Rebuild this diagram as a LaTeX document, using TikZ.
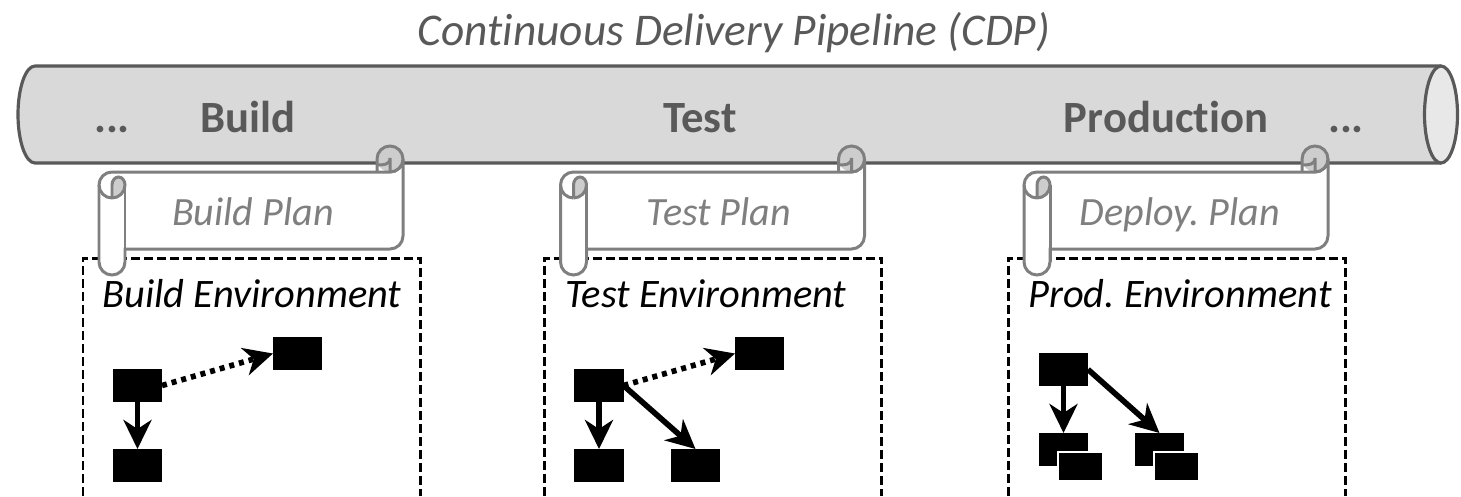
\documentclass[tikz,border=0pt]{standalone}
\usepackage{fontspec}
\usetikzlibrary{arrows.meta}
\setmainfont[Ligatures=NoCommon]{Carlito}
\frenchspacing
\definecolor{pipeline}{HTML}{595959}
\definecolor{pipefill}{HTML}{D9D9D9}
\definecolor{pipeend}{HTML}{E8E8E8}
\definecolor{scrollline}{HTML}{7F7F7F}
\definecolor{curlfill}{HTML}{CDCDCD}
\tikzset{
  task/.style={fill=black, inner sep=0, outer sep=0, minimum width=0.49cm, minimum height=0.33cm},
  taskfront/.style={task, draw=white, line width=0.4pt, minimum width=0.45cm, minimum height=0.29cm},
  link/.style={line width=1.6pt, -{Stealth[length=0.29cm, width=0.28cm, inset=0.09cm]}},
  optlink/.style={link, dash pattern=on 0.05cm off 0.05cm},
  envbox/.style={line width=0.85pt, dash pattern=on 0.09cm off 0.04cm},
  scrollpath/.style={draw=scrollline, line width=0.85pt},
  stage/.style={font=\fontsize{12.7}{15}\selectfont\bfseries, text=pipeline, anchor=base, inner sep=0},
  plan/.style={font=\fontsize{11.4}{14}\selectfont\itshape, text=scrollline, anchor=base, inner sep=0},
  env/.style={font=\fontsize{11.5}{14}\selectfont\itshape, anchor=base, inner sep=0}
}
\begin{document}
\begin{tikzpicture}[x=0.01cm, y=0.01cm]
  \useasboundingbox (0,0) rectangle (1461,496);
  \node[font=\fontsize{12.9}{15}\selectfont\itshape, text=pipeline, anchor=base, inner sep=0] (title) at (734,451) {Continuous Delivery Pipeline (CDP)};
  % pipeline
  \draw[draw=pipeline, fill=pipefill, line width=0.9pt] (1441,430) -- (35,430)
    arc[start angle=90, end angle=270, x radius=17, y radius=48.5] -- (1441,333);
  \draw[draw=pipeline, fill=pipeend, line width=0.9pt] (1441,381.5) ellipse[x radius=16.5, y radius=48.5];
  \node[stage] (dotsL) at (112,364) {...};
  \node[stage] (build) at (248,364) {Build};
  \node[stage] (test) at (700,364) {Test};
  \node[stage] (prod) at (1166,364) {Production};
  \node[stage] (dotsR) at (1346,364) {...};
  % environments and plans
  \foreach \dx/\planx/\plantxt/\envx/\envtxt in {0/253/Build Plan/252/Build Environment,
      461.5/719/Test Plan/706/Test Environment, 925/1180/Deploy. Plan/1180/Prod. Environment} {
    \begin{scope}[shift={(\dx,0)}]
      \draw[envbox] (83,0) -- (83,238) -- (420,238) -- (420,0);
      \fill[curlfill] (390,337) circle[radius=13];
      \draw[scrollpath, fill=white] (112,324) -- (390,324) arc[start angle=-90, end angle=0, radius=13]
        -- (403,260) arc[start angle=0, end angle=-90, radius=13] -- (125,247) -- (125,234)
        arc[start angle=0, end angle=-180, radius=13] -- (99,311)
        arc[start angle=180, end angle=90, radius=13];
      \fill[curlfill] (390,337) -- (390,324) arc[start angle=-90, end angle=0, radius=13] -- cycle;
      \draw[scrollpath] (403,337) arc[start angle=0, end angle=180, radius=13] -- (377,324);
      \draw[scrollpath] (377,331) .. controls (383,331) and (390,331) .. (390,338) -- (390,324);
      \draw[scrollpath] (390,324) arc[start angle=-90, end angle=0, radius=13];
      \draw[scrollpath, fill=curlfill] (112,298) -- (112,311)
        arc[start angle=180, end angle=0, x radius=6.5, y radius=8]
        arc[start angle=0, end angle=-90, radius=13];
      \draw[scrollpath] (99,311) arc[start angle=180, end angle=270, radius=13];
      \draw[scrollpath] (125,311) -- (125,234);
      \node[plan] (plan\dx) at (\planx-\dx,271) {\plantxt};
      \node[env] (env\dx) at (\envx-\dx,189) {\envtxt};
    \end{scope}
  }
  % build tasks
  \node[task] (ba) at (137.5,110.5) {};
  \node[task] (bb) at (137.5,30.5) {};
  \node[task] (bc) at (297.5,142.5) {};
  \draw[link] (ba) -- (bb);
  \draw[optlink] (ba.east) -- (bc.west);
  % test tasks
  \node[task] (ta) at (599,110.5) {};
  \node[task] (tb) at (599,30.5) {};
  \node[task] (tc) at (759.5,142.5) {};
  \node[task] (td) at (695.5,30.5) {};
  \draw[link] (ta) -- (tb);
  \draw[optlink] (ta.east) -- (tc.west);
  \draw[link] (ta.east) -- (td.north);
  % prod tasks
  \node[task] (pa) at (1063.5,126.5) {};
  \node[task] (pb) at (1063.5,46.5) {};
  \node[task] (pd) at (1159.5,46.5) {};
  \node[taskfront] (pbf) at (1080.5,29.5) {};
  \node[taskfront] (pdf) at (1176.5,29.5) {};
  \draw[link] (pa) -- (pb);
  \draw[link] (pa.east) -- (pd.north);
\end{tikzpicture}
\end{document}
